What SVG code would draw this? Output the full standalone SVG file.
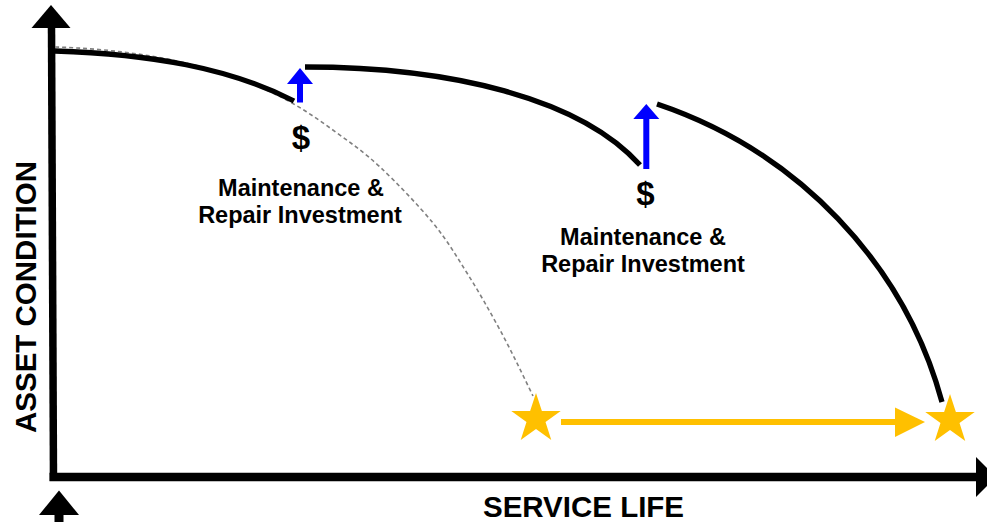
<svg xmlns="http://www.w3.org/2000/svg" width="987" height="522" viewBox="0 0 987 522">
  <style>
    .curve { fill: none; stroke: #000; stroke-width: 5.3; }
    .dash { fill: none; stroke: #808080; stroke-width: 1.6; stroke-dasharray: 4 3; }
    .axis { fill: none; stroke: #000; }
    .lbl { font-family: "Liberation Sans", Arial, sans-serif; font-weight: bold; fill: #000; text-anchor: middle; }
    .blue { fill: #0000FF; }
    .gold { fill: #FFC000; }
  </style>
  <defs>
    <polygon id="star" points="0,-26 5.88,-8.09 24.73,-8.03 9.51,3.09 15.28,21.03 0,10 -15.28,21.03 -9.51,3.09 -24.73,-8.03 -5.88,-8.09"/>
  </defs>
  <rect width="987" height="522" fill="#fff"/>

  <g id="axes">
    <line class="axis" x1="51.5" y1="26" x2="53.5" y2="481" stroke-width="7.5"/>
    <line class="axis" x1="49.5" y1="477" x2="977" y2="477" stroke-width="8.5"/>
    <polygon points="51,5 70.5,28 31.5,28" fill="#000"/>
    <polygon points="976,457 996,477 976,497" fill="#000"/>
    <polygon points="59,490.5 79,515 39,515" fill="#000"/>
    <rect x="54.5" y="514" width="9" height="8" fill="#000"/>
  </g>

  <g id="connectors">
    <path class="dash" d="M55,47 C150,50 230,68 292,103 C307.7,111.9 322.3,122.3 337,133 C351.7,143.7 364,152 380,167 C396,182 418.5,205.3 433,223 C447.5,240.7 455.8,255.2 467,273 C478.2,290.8 489,309.7 500,330 C511,350.3 522,373.3 533,396"/>
    <path id="curve1" class="curve" d="M55,51 C150,54 230,68 294,101"/>
    <path id="curve2" class="curve" d="M305,67 C450,67 580,98 640,165"/>
    <path id="curve3" class="curve" d="M657,104 A446.7,432.1 0 0 1 942,402"/>
    <g id="blue-arrow-1">
      <rect class="blue" x="297" y="83" width="6" height="19.5"/>
      <polygon class="blue" points="300,68 313,84 287,84"/>
    </g>
    <g id="blue-arrow-2">
      <rect class="blue" x="643.3" y="118" width="6" height="51"/>
      <polygon class="blue" points="646.3,104 659.3,119 633.3,119"/>
    </g>
    <g id="gold-arrow">
      <rect class="gold" x="561" y="419" width="335" height="6"/>
      <polygon class="gold" points="925,422 895,407.5 895,437"/>
    </g>
  </g>

  <g id="star-start">
    <use href="#star" x="536" y="419" class="gold"/>
  </g>
  <g id="star-end">
    <use href="#star" x="950" y="420" class="gold"/>
  </g>

  <g id="label-1">
    <text class="lbl" x="301" y="148.5" font-size="33">$</text>
    <text class="lbl" x="301" y="195.5" font-size="23.5">Maintenance &amp;</text>
    <text class="lbl" x="300" y="222.5" font-size="23.5">Repair Investment</text>
  </g>
  <g id="label-2">
    <text class="lbl" x="645.5" y="204.5" font-size="33">$</text>
    <text class="lbl" x="643" y="245" font-size="23.5">Maintenance &amp;</text>
    <text class="lbl" x="643" y="272" font-size="23.5">Repair Investment</text>
  </g>
  <g id="axis-labels">
    <text class="lbl" x="0" y="0" font-size="29.5" transform="translate(35.5,297) rotate(-90)">ASSET CONDITION</text>
    <text class="lbl" x="583.5" y="517" font-size="29.5">SERVICE LIFE</text>
  </g>
</svg>
